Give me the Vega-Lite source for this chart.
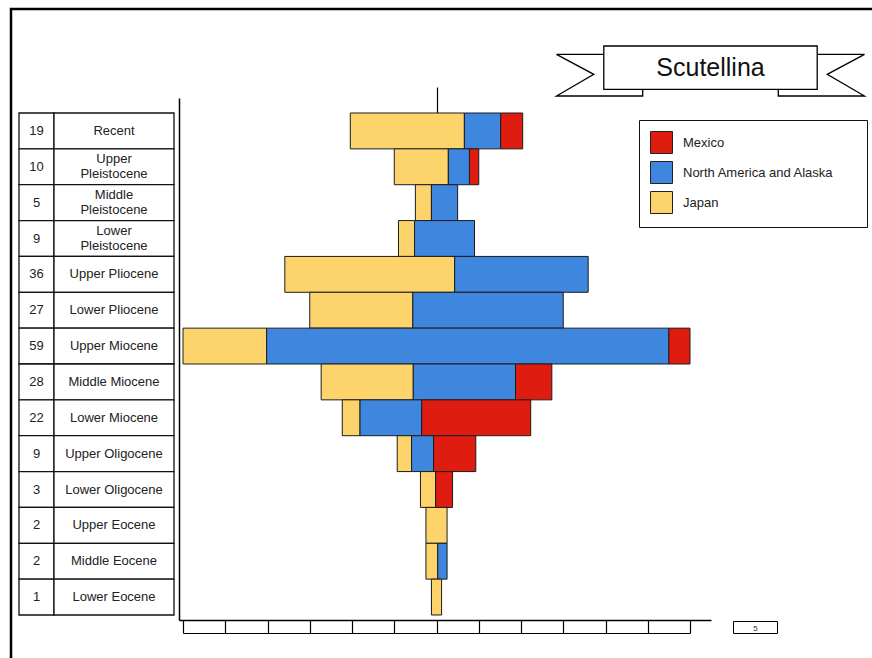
{
  "$schema": "https://vega.github.io/schema/vega-lite/v6.json",
  "width": 870,
  "height": 660,
  "autosize": {"type": "none"},
  "padding": {"left": 11, "top": 9, "right": 0, "bottom": 0},
  "background": "white",
  "config": {
    "view": {"stroke": "black", "strokeWidth": 2.5},
    "font": "Liberation Sans",
    "axis": {"labelFont": "Liberation Sans", "grid": false, "title": null},
    "legend": {"labelFont": "Liberation Sans"}
  },
  "datasets": {
    "bars": [
      {"epoch": "Recent", "region": "Japan", "count": 13.5},
      {"epoch": "Recent", "region": "North America and Alaska", "count": 4.3},
      {"epoch": "Recent", "region": "Mexico", "count": 2.6},
      {"epoch": "Upper Pleistocene", "region": "Japan", "count": 6.4},
      {"epoch": "Upper Pleistocene", "region": "North America and Alaska", "count": 2.5},
      {"epoch": "Upper Pleistocene", "region": "Mexico", "count": 1.1},
      {"epoch": "Middle Pleistocene", "region": "Japan", "count": 1.9},
      {"epoch": "Middle Pleistocene", "region": "North America and Alaska", "count": 3.1},
      {"epoch": "Lower Pleistocene", "region": "Japan", "count": 1.9},
      {"epoch": "Lower Pleistocene", "region": "North America and Alaska", "count": 7.1},
      {"epoch": "Upper Pliocene", "region": "Japan", "count": 20.1},
      {"epoch": "Upper Pliocene", "region": "North America and Alaska", "count": 15.8},
      {"epoch": "Lower Pliocene", "region": "Japan", "count": 12.2},
      {"epoch": "Lower Pliocene", "region": "North America and Alaska", "count": 17.8},
      {"epoch": "Upper Miocene", "region": "Japan", "count": 9.9},
      {"epoch": "Upper Miocene", "region": "North America and Alaska", "count": 47.6},
      {"epoch": "Upper Miocene", "region": "Mexico", "count": 2.5},
      {"epoch": "Middle Miocene", "region": "Japan", "count": 10.9},
      {"epoch": "Middle Miocene", "region": "North America and Alaska", "count": 12.1},
      {"epoch": "Middle Miocene", "region": "Mexico", "count": 4.3},
      {"epoch": "Lower Miocene", "region": "Japan", "count": 2.1},
      {"epoch": "Lower Miocene", "region": "North America and Alaska", "count": 7.3},
      {"epoch": "Lower Miocene", "region": "Mexico", "count": 12.9},
      {"epoch": "Upper Oligocene", "region": "Japan", "count": 1.7},
      {"epoch": "Upper Oligocene", "region": "North America and Alaska", "count": 2.6},
      {"epoch": "Upper Oligocene", "region": "Mexico", "count": 5.0},
      {"epoch": "Lower Oligocene", "region": "Japan", "count": 1.8},
      {"epoch": "Lower Oligocene", "region": "Mexico", "count": 2.0},
      {"epoch": "Upper Eocene", "region": "Japan", "count": 2.5},
      {"epoch": "Middle Eocene", "region": "Japan", "count": 1.4},
      {"epoch": "Middle Eocene", "region": "North America and Alaska", "count": 1.1},
      {"epoch": "Lower Eocene", "region": "Japan", "count": 1.2}
    ],
    "table": [
      {"epoch": "Recent", "total": 19},
      {"epoch": "Upper Pleistocene", "total": 10},
      {"epoch": "Middle Pleistocene", "total": 5},
      {"epoch": "Lower Pleistocene", "total": 9},
      {"epoch": "Upper Pliocene", "total": 36},
      {"epoch": "Lower Pliocene", "total": 27},
      {"epoch": "Upper Miocene", "total": 59},
      {"epoch": "Middle Miocene", "total": 28},
      {"epoch": "Lower Miocene", "total": 22},
      {"epoch": "Upper Oligocene", "total": 9},
      {"epoch": "Lower Oligocene", "total": 3},
      {"epoch": "Upper Eocene", "total": 2},
      {"epoch": "Middle Eocene", "total": 2},
      {"epoch": "Lower Eocene", "total": 1}
    ],
    "banner": [{"name": "Scutellina"}]
  },
  "resolve": {"scale": {"x": "independent"}},
  "layer": [
    {
      "data": {"name": "table"},
      "encoding": {
        "y": {"field": "epoch", "type": "nominal", "scale": {"domain": ["Recent","Upper Pleistocene","Middle Pleistocene","Lower Pleistocene","Upper Pliocene","Lower Pliocene","Upper Miocene","Middle Miocene","Lower Miocene","Upper Oligocene","Lower Oligocene","Upper Eocene","Middle Eocene","Lower Eocene"]}}
      },
      "layer": [
        {
          "mark": {"type": "rect", "fill": "white", "stroke": "#111", "strokeWidth": 1.3},
          "encoding": {
            "x": {"datum": 0, "type": "quantitative", "scale": {"domain": [0, 1], "range": [8, 43], "zero": false, "nice": false}, "axis": null},
            "x2": {"datum": 1}
          }
        },
        {
          "mark": {"type": "rect", "fill": "white", "stroke": "#111", "strokeWidth": 1.3},
          "encoding": {
            "x": {"datum": 0, "type": "quantitative", "scale": {"domain": [0, 1], "range": [43, 163], "zero": false, "nice": false}, "axis": null},
            "x2": {"datum": 1}
          }
        },
        {
          "mark": {"type": "text", "fontSize": 13, "color": "#222", "font": "Liberation Sans"},
          "encoding": {
            "x": {"datum": 0.5, "type": "quantitative", "scale": {"domain": [0, 1], "range": [8, 43], "zero": false, "nice": false}, "axis": null},
            "text": {"field": "total"}
          }
        },
        {
          "transform": [{"filter": "indexof(datum.epoch, 'Pleistocene') < 0"}],
          "mark": {"type": "text", "fontSize": 13, "color": "#222", "font": "Liberation Sans"},
          "encoding": {
            "x": {"datum": 0.5, "type": "quantitative", "scale": {"domain": [0, 1], "range": [43, 163], "zero": false, "nice": false}, "axis": null},
            "text": {"field": "epoch"}
          }
        },
        {
          "transform": [
            {"filter": "indexof(datum.epoch, 'Pleistocene') >= 0"},
            {"calculate": "split(datum.epoch, ' ')", "as": "label"}
          ],
          "mark": {"type": "text", "fontSize": 13, "color": "#222", "font": "Liberation Sans", "lineHeight": 15, "dy": -7.5},
          "encoding": {
            "x": {"datum": 0.5, "type": "quantitative", "scale": {"domain": [0, 1], "range": [43, 163], "zero": false, "nice": false}, "axis": null},
            "text": {"field": "label"}
          }
        }
      ],
      "resolve": {"scale": {"x": "independent"}}
    },
    {
      "data": {"name": "bars"},
      "transform": [
        {"calculate": "indexof(['Japan','North America and Alaska','Mexico'], datum.region)", "as": "stackOrder"}
      ],
      "mark": {"type": "bar", "stroke": "#1c1c1c", "strokeWidth": 1},
      "encoding": {
        "y": {
          "field": "epoch", "type": "nominal",
          "scale": {"domain": ["Recent","Upper Pleistocene","Middle Pleistocene","Lower Pleistocene","Upper Pliocene","Lower Pliocene","Upper Miocene","Middle Miocene","Lower Miocene","Upper Oligocene","Lower Oligocene","Upper Eocene","Middle Eocene","Lower Eocene"], "range": [89, 611], "paddingInner": 0, "paddingOuter": 0.279, "align": 0.75},
          "axis": {"orient": "left", "offset": -168, "domain": true, "domainColor": "black", "domainWidth": 1.5, "ticks": false, "labels": false, "title": null}
        },
        "x": {
          "field": "count", "type": "quantitative", "stack": "center",
          "scale": {"domain": [0, 60], "range": [172, 679], "zero": false, "nice": false},
          "axis": {"orient": "bottom", "offset": -49, "values": [0,5,10,15,20,25,30,35,40,45,50,55,60], "tickSize": 13, "tickWidth": 1.2, "tickColor": "black", "domain": false, "labels": false, "title": null}
        },
        "color": {
          "field": "region", "type": "nominal",
          "scale": {"domain": ["Mexico", "North America and Alaska", "Japan"], "range": ["#df1c10", "#3f86de", "#fdd46c"]},
          "legend": {
            "orient": "none", "legendX": 628, "legendY": 111, "title": null,
            "symbolType": "square", "symbolSize": 484, "symbolStrokeWidth": 1, "symbolStrokeColor": "#222", "symbolOpacity": 1,
            "labelFontSize": 13, "labelColor": "#222", "labelOffset": 10, "labelLimit": 0, "rowPadding": 3, "padding": 11,
            "strokeColor": "#111", "fillColor": "white",
            "labelExpr": "datum.label + '\u00a0\u00a0\u00a0\u00a0\u00a0\u00a0\u200b'"
          }
        },
        "order": {"field": "stackOrder", "type": "quantitative"}
      }
    },
    {
      "data": {"name": "table"},
      "mark": {"type": "rule", "opacity": 0},
      "encoding": {
        "x": {"datum": 30, "type": "quantitative", "scale": {"domain": [0, 60], "range": [172, 679], "zero": false, "nice": false},
          "axis": {"orient": "top", "offset": -104, "values": [30], "tickSize": 26, "tickWidth": 1.2, "tickColor": "black", "domain": false, "labels": false, "title": null}}
      }
    },
    {
      "data": {"name": "table"},
      "mark": {"type": "rule", "opacity": 0},
      "encoding": {
        "x": {"datum": 0, "type": "quantitative", "scale": {"domain": [0, 60], "range": [172, 679], "zero": false, "nice": false},
          "axis": {"orient": "bottom", "offset": -36, "domain": true, "domainColor": "black", "domainWidth": 1.2, "ticks": false, "labels": false, "title": null}}
      }
    },
    {
      "data": {"name": "table"},
      "mark": {"type": "rule", "opacity": 0},
      "encoding": {
        "x": {"datum": 0, "type": "quantitative", "scale": {"domain": [0, 1], "range": [168, 700], "zero": false, "nice": false},
          "axis": {"orient": "bottom", "offset": -49, "domain": true, "domainColor": "black", "domainWidth": 1.5, "ticks": false, "labels": false, "title": null}}
      }
    },
    {
      "data": {"name": "table"},
      "mark": {"type": "rule", "opacity": 0},
      "encoding": {
        "x": {"datum": 0, "type": "quantitative", "scale": {"domain": [0, 1], "range": [722, 766], "zero": false, "nice": false},
          "axis": {"orient": "bottom", "offset": -48, "values": [0, 0.5, 1], "domain": true, "domainColor": "black", "domainWidth": 1,
            "tickSize": 12, "tickWidth": 1, "tickColor": "black",
            "tickOpacity": {"condition": {"test": "datum.value === 0.5", "value": 0}, "value": 1},
            "labelExpr": "datum.value === 0.5 ? '5' : ''", "labelFontSize": 8, "labelColor": "#333", "labelPadding": -5,
            "labelBaseline": "middle", "labelAlign": "center", "labelOverlap": false, "labelFlush": false, "title": null}}
      }
    },
    {
      "data": {"name": "table"},
      "mark": {"type": "rule", "opacity": 0},
      "encoding": {
        "x": {"datum": 0, "type": "quantitative", "scale": {"domain": [0, 1], "range": [722, 766], "zero": false, "nice": false},
          "axis": {"orient": "bottom", "offset": -36, "domain": true, "domainColor": "black", "domainWidth": 1, "ticks": false, "labels": false, "title": null}}
      }
    },
    {
      "data": {"name": "banner"},
      "mark": {"type": "point", "opacity": 0, "filled": false, "color": "black"},
      "encoding": {
        "shape": {
          "field": "name", "type": "nominal",
          "scale": {"range": ["M-0.9625,-0.0856L-0.6669,-0.0856L-0.6669,0.1331L-0.4238,0.1331L-0.4238,0.175L-0.9625,0.175L-0.7294,0.0394ZM0.9625,-0.0856L0.6669,-0.0856L0.6669,0.1331L0.4238,0.1331L0.4238,0.175L0.9625,0.175L0.7294,0.0394ZM-0.6669,-0.1375L0.6669,-0.1375L0.6669,0.1331L-0.6669,0.1331Z"]},
          "legend": {
            "orient": "none", "legendX": 538.5, "legendY": -102, "title": null, "padding": 0,
            "symbolSize": 102400, "symbolStrokeWidth": 1.3, "symbolStrokeColor": "black", "symbolFillColor": "transparent", "symbolOpacity": 1,
            "labelFontSize": 25, "labelColor": "#111", "labelAlign": "center", "labelOffset": -161, "labelLimit": 0
          }
        }
      }
    }
  ]
}
